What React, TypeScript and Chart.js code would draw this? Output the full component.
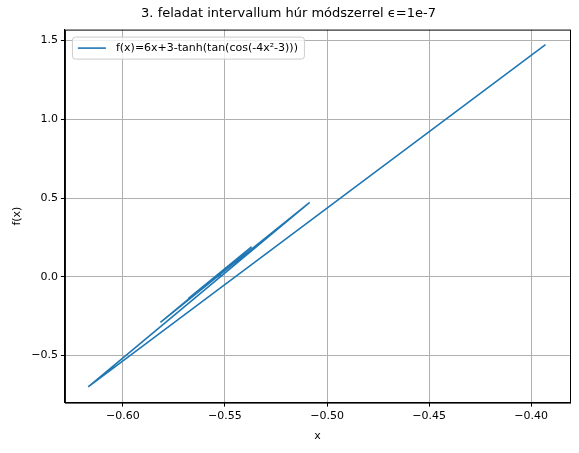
import React, { useEffect, useRef } from "react";
import { Chart, registerables } from "chart.js";
Chart.register(...registerables);

const xs = [-0.393, -0.617, -0.5085, -0.5816, -0.537, -0.568, -0.546, -0.561, -0.550, -0.557, -0.552, -0.555, -0.5535, -0.554];
const ys = [1.474, -0.70, 0.472, -0.29, 0.19, -0.14, 0.09, -0.07, 0.04, -0.03, 0.015, -0.008, 0.002, 0.0];
const xTicks = [-0.6, -0.55, -0.5, -0.45, -0.4];
const yTicks = [-0.5, 0, 0.5, 1.0, 1.5];
const label = "f(x)=6x+3-tanh(tan(cos(-4x²-3)))";

const extras = {
  id: "extras",
  afterDraw(chart: any) {
    const { ctx, chartArea: a } = chart;
    ctx.save();
    ctx.strokeStyle = "#000";
    ctx.lineWidth = 1;
    ctx.strokeRect(a.left + 0.5, a.top + 0.5, a.right - a.left, a.bottom - a.top);
    ctx.font = "11px 'DejaVu Sans'";
    const w = ctx.measureText(label).width;
    const bx = a.left + 7, by = a.top + 7, bw = w + 50, bh = 22;
    ctx.fillStyle = "rgba(255,255,255,0.8)";
    ctx.strokeStyle = "#ccc";
    ctx.beginPath();
    (ctx as any).roundRect(bx + 0.5, by + 0.5, bw, bh, 3);
    ctx.fill(); ctx.stroke();
    ctx.strokeStyle = "#1f77b4"; ctx.lineWidth = 1.6;
    ctx.beginPath(); ctx.moveTo(bx + 6, by + 11.5); ctx.lineTo(bx + 34, by + 11.5); ctx.stroke();
    ctx.fillStyle = "#000"; ctx.textBaseline = "middle";
    ctx.fillText(label, bx + 44, by + 12);
    ctx.restore();
  },
};

export default function App() {
  const ref = useRef<HTMLCanvasElement>(null);
  useEffect(() => {
    const font = { family: "DejaVu Sans", size: 11 };
    const c = new Chart(ref.current!, {
      type: "scatter",
      data: {
        datasets: [{
          label,
          data: xs.map((x, i) => ({ x, y: ys[i] })),
          showLine: true, borderColor: "#1f77b4", backgroundColor: "#1f77b4",
          borderWidth: 1.6, pointRadius: 0,
        }],
      },
      options: {
        animation: false, responsive: false,
        layout: { padding: { right: 9, left: 7, bottom: 6, top: 0 } },
        plugins: {
          title: { display: true, text: "3. feladat intervallum húr módszerrel ϵ=1e-7", color: "#000", font: { family: "DejaVu Sans", size: 13, weight: "normal" }, padding: { top: 6, bottom: 8 } },
          legend: { display: false },
          tooltip: { enabled: false },
        },
        scales: {
          x: {
            type: "linear", min: -0.6284, max: -0.381,
            afterBuildTicks: (s: any) => { s.ticks = xTicks.map(v => ({ value: v })); },
            ticks: { color: "#000", font, callback: (v: any) => Number(v).toFixed(2).replace("-", "−") },
            grid: { color: "#b0b0b0", tickColor: "#000", tickLength: 4 },
            border: { color: "#000" },
            title: { display: true, text: "x", color: "#000", font },
          },
          y: {
            type: "linear", min: -0.80, max: 1.57,
            afterBuildTicks: (s: any) => { s.ticks = yTicks.map(v => ({ value: v })); },
            ticks: { color: "#000", font, callback: (v: any) => Number(v).toFixed(1).replace("-", "−") },
            grid: { color: "#b0b0b0", tickColor: "#000", tickLength: 4 },
            border: { color: "#000" },
            title: { display: true, text: "f(x)", color: "#000", font },
          },
        },
      },
      plugins: [extras],
    });
    return () => c.destroy();
  }, []);
  return <canvas ref={ref} width={579} height={453} style={{ position: "absolute", left: 0, top: 0 }} />;
}
